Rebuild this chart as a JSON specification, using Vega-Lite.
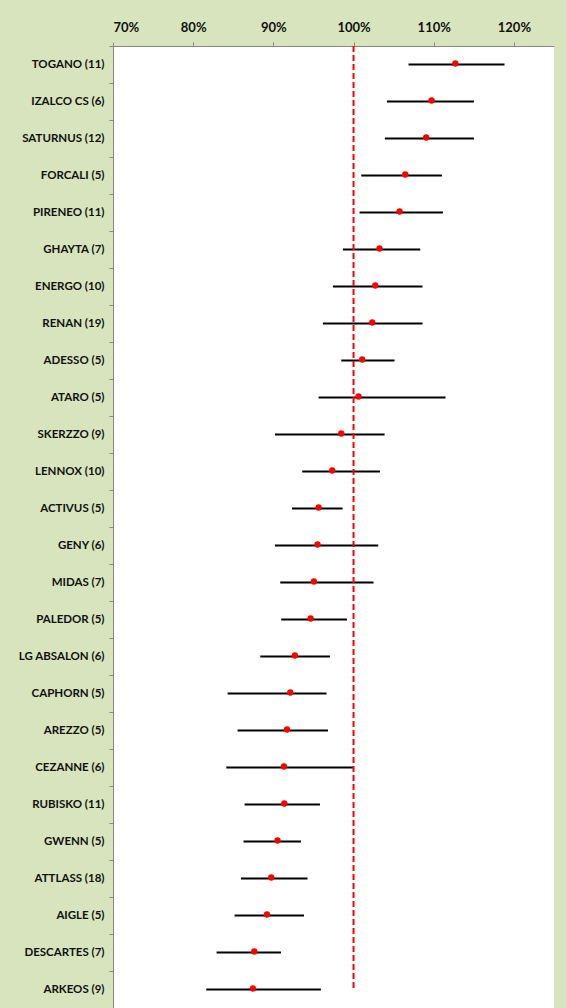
{
  "$schema": "https://vega.github.io/schema/vega-lite/v6.json",
  "autosize": {"type": "none"},
  "width": 441,
  "height": 962,
  "padding": {"left": 113, "top": 46, "right": 12, "bottom": 0},
  "background": "#D7E4BD",
  "config": {
    "view": {"fill": "white", "stroke": null},
    "font": "Lato"
  },
  "datasets": {
    "vals": [
      {"name": "TOGANO (11)", "mean": 1.127, "lo": 1.0686, "hi": 1.1883},
      {"name": "IZALCO CS (6)", "mean": 1.0973, "lo": 1.0416, "hi": 1.1501},
      {"name": "SATURNUS (12)", "mean": 1.0906, "lo": 1.0391, "hi": 1.1501},
      {"name": "FORCALI (5)", "mean": 1.0645, "lo": 1.0096, "hi": 1.1102},
      {"name": "PIRENEO (11)", "mean": 1.0574, "lo": 1.0075, "hi": 1.1115},
      {"name": "GHAYTA (7)", "mean": 1.0324, "lo": 0.9868, "hi": 1.0832},
      {"name": "ENERGO (10)", "mean": 1.0271, "lo": 0.9743, "hi": 1.086},
      {"name": "RENAN (19)", "mean": 1.0233, "lo": 0.9618, "hi": 1.086},
      {"name": "ADESSO (5)", "mean": 1.0108, "lo": 0.9847, "hi": 1.0511},
      {"name": "ATARO (5)", "mean": 1.0062, "lo": 0.9564, "hi": 1.1147},
      {"name": "SKERZZO (9)", "mean": 0.9847, "lo": 0.902, "hi": 1.0387},
      {"name": "LENNOX (10)", "mean": 0.9734, "lo": 0.936, "hi": 1.0329},
      {"name": "ACTIVUS (5)", "mean": 0.9564, "lo": 0.9232, "hi": 0.9863},
      {"name": "GENY (6)", "mean": 0.9551, "lo": 0.902, "hi": 1.0308},
      {"name": "MIDAS (7)", "mean": 0.9506, "lo": 0.9086, "hi": 1.0249},
      {"name": "PALEDOR (5)", "mean": 0.9464, "lo": 0.9098, "hi": 0.9918},
      {"name": "LG ABSALON (6)", "mean": 0.9269, "lo": 0.8837, "hi": 0.9706},
      {"name": "CAPHORN (5)", "mean": 0.9211, "lo": 0.8429, "hi": 0.9663},
      {"name": "AREZZO (5)", "mean": 0.917, "lo": 0.8554, "hi": 0.9681},
      {"name": "CEZANNE (6)", "mean": 0.9132, "lo": 0.8413, "hi": 1.0},
      {"name": "RUBISKO (11)", "mean": 0.9136, "lo": 0.8641, "hi": 0.9581},
      {"name": "GWENN (5)", "mean": 0.9052, "lo": 0.8628, "hi": 0.9344},
      {"name": "ATTLASS (18)", "mean": 0.8974, "lo": 0.8596, "hi": 0.9426},
      {"name": "AIGLE (5)", "mean": 0.892, "lo": 0.8516, "hi": 0.9382},
      {"name": "DESCARTES (7)", "mean": 0.8762, "lo": 0.8292, "hi": 0.9095},
      {"name": "ARKEOS (9)", "mean": 0.8746, "lo": 0.8163, "hi": 0.9593}
    ],
    "ref": [
      {"ref": 1.0, "from": "TOGANO (11)", "to": "ARKEOS (9)"}
    ]
  },
  "layer": [
    {
      "data": {"name": "vals"},
      "mark": {"type": "rule", "color": "#000000", "strokeWidth": 2},
      "encoding": {
        "y": {
          "field": "name", "type": "nominal", "sort": null,
          "scale": {"paddingInner": 0, "paddingOuter": 0},
          "axis": {
            "title": null,
            "orient": "left",
            "tickBand": "extent",
            "domainColor": "#868686",
            "tickColor": "#868686",
            "tickSize": 4,
            "labelPadding": 5,
            "labelFont": "Lato",
            "labelFontWeight": "bold",
            "labelFontSize": 11.5,
            "labelColor": "#111111"
          }
        },
        "x": {
          "field": "lo", "type": "quantitative",
          "scale": {"domain": [0.7, 1.25], "nice": false, "zero": false},
          "axis": {
            "title": null,
            "orient": "top",
            "values": [0.7, 0.8, 0.9, 1.0, 1.1, 1.2],
            "format": ".0%",
            "grid": false,
            "domainColor": "#868686",
            "tickColor": "#868686",
            "tickSize": 4,
            "labelPadding": 8,
            "labelFont": "Lato",
            "labelFontWeight": "bold",
            "labelFontSize": 13,
            "labelColor": "#111111"
          }
        },
        "x2": {"field": "hi"}
      }
    },
    {
      "data": {"name": "ref"},
      "mark": {"type": "rule", "color": "#FF0000", "strokeWidth": 2, "strokeDash": [6, 3]},
      "encoding": {
        "x": {"field": "ref", "type": "quantitative"},
        "y": {"field": "from", "type": "nominal", "sort": null, "bandPosition": 0},
        "y2": {"field": "to"}
      }
    },
    {
      "data": {"name": "vals"},
      "mark": {"type": "point", "filled": true, "color": "#FF0000", "opacity": 1, "size": 40, "shape": "circle", "yOffset": -1},
      "encoding": {
        "y": {"field": "name", "type": "nominal", "sort": null},
        "x": {"field": "mean", "type": "quantitative"}
      }
    }
  ]
}
